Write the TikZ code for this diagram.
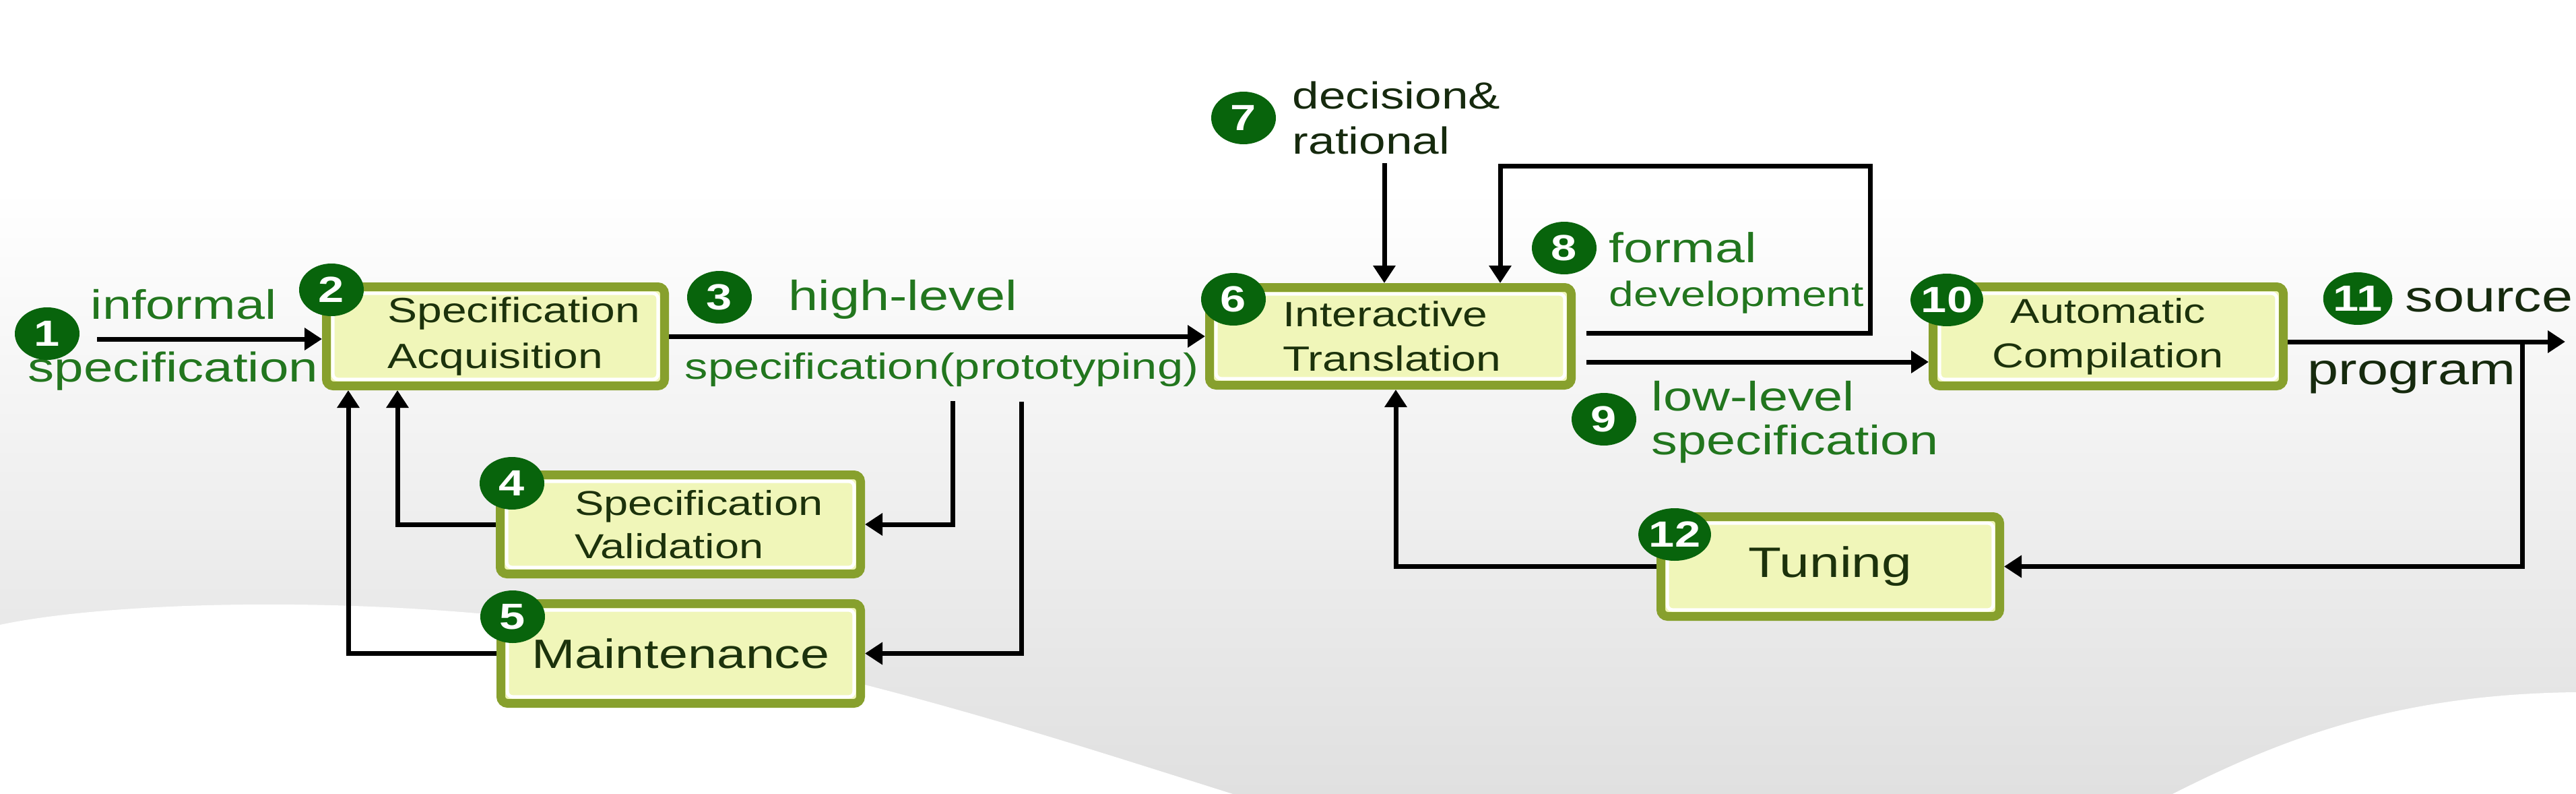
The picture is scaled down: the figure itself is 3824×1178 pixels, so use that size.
\documentclass[tikz,border=0pt]{standalone}
\usepackage{fontspec}
\setmainfont{Liberation Sans}[FakeStretch=1.27]
\usetikzlibrary{arrows.meta,shapes.geometric,calc}
\definecolor{dkgreen}{RGB}{8,100,12}
\definecolor{lblgreen}{RGB}{34,118,30}
\definecolor{olivebd}{RGB}{135,160,45}
\definecolor{boxfill}{RGB}{240,246,185}
\definecolor{boxtext}{RGB}{28,50,12}
\definecolor{darktext}{RGB}{22,42,14}
\definecolor{bgbot}{RGB}{224,224,224}
\tikzset{
  stage/.style={draw=olivebd, line width=3.25pt, fill=boxfill, rounded corners=2.5pt,
    inner sep=0pt, text=boxtext,
    path picture={\draw[white, line width=1.25pt, rounded corners=2pt]
      ([shift={(2.4pt,-2.4pt)}]path picture bounding box.north west) rectangle
      ([shift={(-2.4pt,2.4pt)}]path picture bounding box.south east);}},
  num/.style={ellipse, fill=dkgreen, text=white, inner sep=0pt,
    minimum width=24pt, minimum height=19.5pt,
    font=\bfseries\fontsize{13.5}{13.5}\selectfont},
  lbl/.style={text=lblgreen, inner sep=0pt, anchor=base west},
  dlbl/.style={text=darktext, inner sep=0pt, anchor=base west},
  flow/.style={line width=1.75pt, -{Triangle[length=6.5pt,width=8pt]}},
}
\begin{document}
\begin{tikzpicture}[x=0.25pt,y=-0.25pt]
\useasboundingbox (0,0) rectangle (3824,1178);
% background
\fill[white] (0,0) rectangle (3824,1178);
\shade[top color=white, bottom color=bgbot] (0,280) rectangle (3824,1178);
\fill[white] (0,927) .. controls (150,895) and (500,880) .. (850,925)
  .. controls (1250,990) and (1550,1090) .. (1830,1178) -- (0,1178) -- cycle;
\fill[white] (3225,1178) .. controls (3380,1100) and (3550,1030) .. (3824,1027)
  -- (3824,1178) -- cycle;

% boxes
\node[stage, minimum width=125.5pt, minimum height=36.75pt, text width=80pt, align=left,
  font=\fontsize{13}{17}\selectfont] (acq) at (735.5,499) {Specification\\Acquisition};
\node[stage, minimum width=133.75pt, minimum height=36.75pt, text width=78.5pt, align=left,
  font=\fontsize{12.8}{16}\selectfont] (val) at (1010,778) {Specification\\Validation};
\node[stage, minimum width=133.5pt, minimum height=37pt,
  font=\fontsize{15.2}{17}\selectfont] (mnt) at (1010.5,969.5) {Maintenance};
\node[stage, minimum width=134.25pt, minimum height=36.25pt, text width=80pt, align=left,
  font=\fontsize{13}{16.5}\selectfont] (it) at (2064,499) {Interactive\\Translation};
\node[stage, minimum width=130pt, minimum height=36.75pt, align=center,
  font=\fontsize{12.8}{16.5}\selectfont] (ac) at (3129.5,499) {Automatic\\Compilation};
\node[stage, minimum width=125.75pt, minimum height=37pt,
  font=\fontsize{15.8}{17}\selectfont] (tun) at (2717,840.5) {Tuning};

% helper coordinates
\coordinate (in1) at (144,503);
\coordinate (b4) at (1414,595);
\coordinate (b5) at (1516,596);
\coordinate (r4) at (590,0);
\coordinate (r5) at (517,0);
\coordinate (d7) at (2055,242);
\coordinate (l8s) at (2355,494);
\coordinate (l8c) at (2776,246);
\coordinate (l8x) at (2227,0);
\coordinate (l9s) at (2355,537);
\coordinate (out11) at (3808,507);
\coordinate (r11) at (3744,0);
\coordinate (r12) at (2072,0);

% connectors
\draw[flow] (in1) -- (in1 -| acq.west);
\draw[flow] (acq.east) -- (it.west);
\draw[flow] (b4) |- (val.east);
\draw[flow] (b5) |- (mnt.east);
\draw[flow] (val.west) -| (r4 |- acq.south);
\draw[flow] (mnt.west) -| (r5 |- acq.south);
\draw[flow] (d7) -- (d7 |- it.north);
\draw[flow] (l8s) -| (l8c) -| (l8x |- it.north);
\draw[flow] (l9s) -- (l9s -| ac.west);
\draw[flow] (out11 -| ac.east) -- (out11);
\draw[flow] (r11 |- out11) |- (tun.east);
\draw[flow] (tun.west) -| (r12 |- it.south);

% labels
\node[lbl, font=\fontsize{15.25}{15.25}\selectfont] (t1a) at (134,473) {informal};
\node[lbl, font=\fontsize{15.4}{15.4}\selectfont] (t1b) at (41,566) {specification};
\node[lbl, font=\fontsize{15.6}{15.6}\selectfont] (t3a) at (1170,460) {high-level};
\node[lbl, font=\fontsize{13.5}{13.5}\selectfont] (t3b) at (1016,562) {specification(prototyping)};
\node[dlbl, font=\fontsize{14}{14}\selectfont] (t7a) at (1918,161) {decision\&};
\node[dlbl, font=\fontsize{14}{14}\selectfont] (t7b) at (1918,228) {rational};
\node[lbl, font=\fontsize{15.5}{15.5}\selectfont] (t8a) at (2388,389) {formal};
\node[lbl, font=\fontsize{13}{13}\selectfont] (t8b) at (2388,454) {development};
\node[lbl, font=\fontsize{15.25}{15.25}\selectfont] (t9a) at (2451,609) {low-level};
\node[lbl, font=\fontsize{15.25}{15.25}\selectfont] (t9b) at (2451,674) {specification};
\node[dlbl, font=\fontsize{16.3}{16.3}\selectfont] (t11a) at (3570,462) {source};
\node[dlbl, font=\fontsize{16.3}{16.3}\selectfont] (t11b) at (3425,570) {program};

% numbers
\node[num] (c1) at (70,495) {1};
\node[num] (c2) at (492,430) {2};
\node[num] (c3) at (1068,441) {3};
\node[num] (c4) at (760,717) {4};
\node[num] (c5) at (761,915) {5};
\node[num] (c6) at (1831,444) {6};
\node[num] (c7) at (1846,175) {7};
\node[num] (c8) at (2322,368) {8};
\node[num] (c9) at (2381,622) {9};
\node[num, minimum width=25pt] (c10) at (2890,445) {10};
\node[num, minimum width=25pt] (c11) at (3500,443) {11};
\node[num, minimum width=25pt] (c12) at (2486,793) {12};
\end{tikzpicture}
\end{document}
